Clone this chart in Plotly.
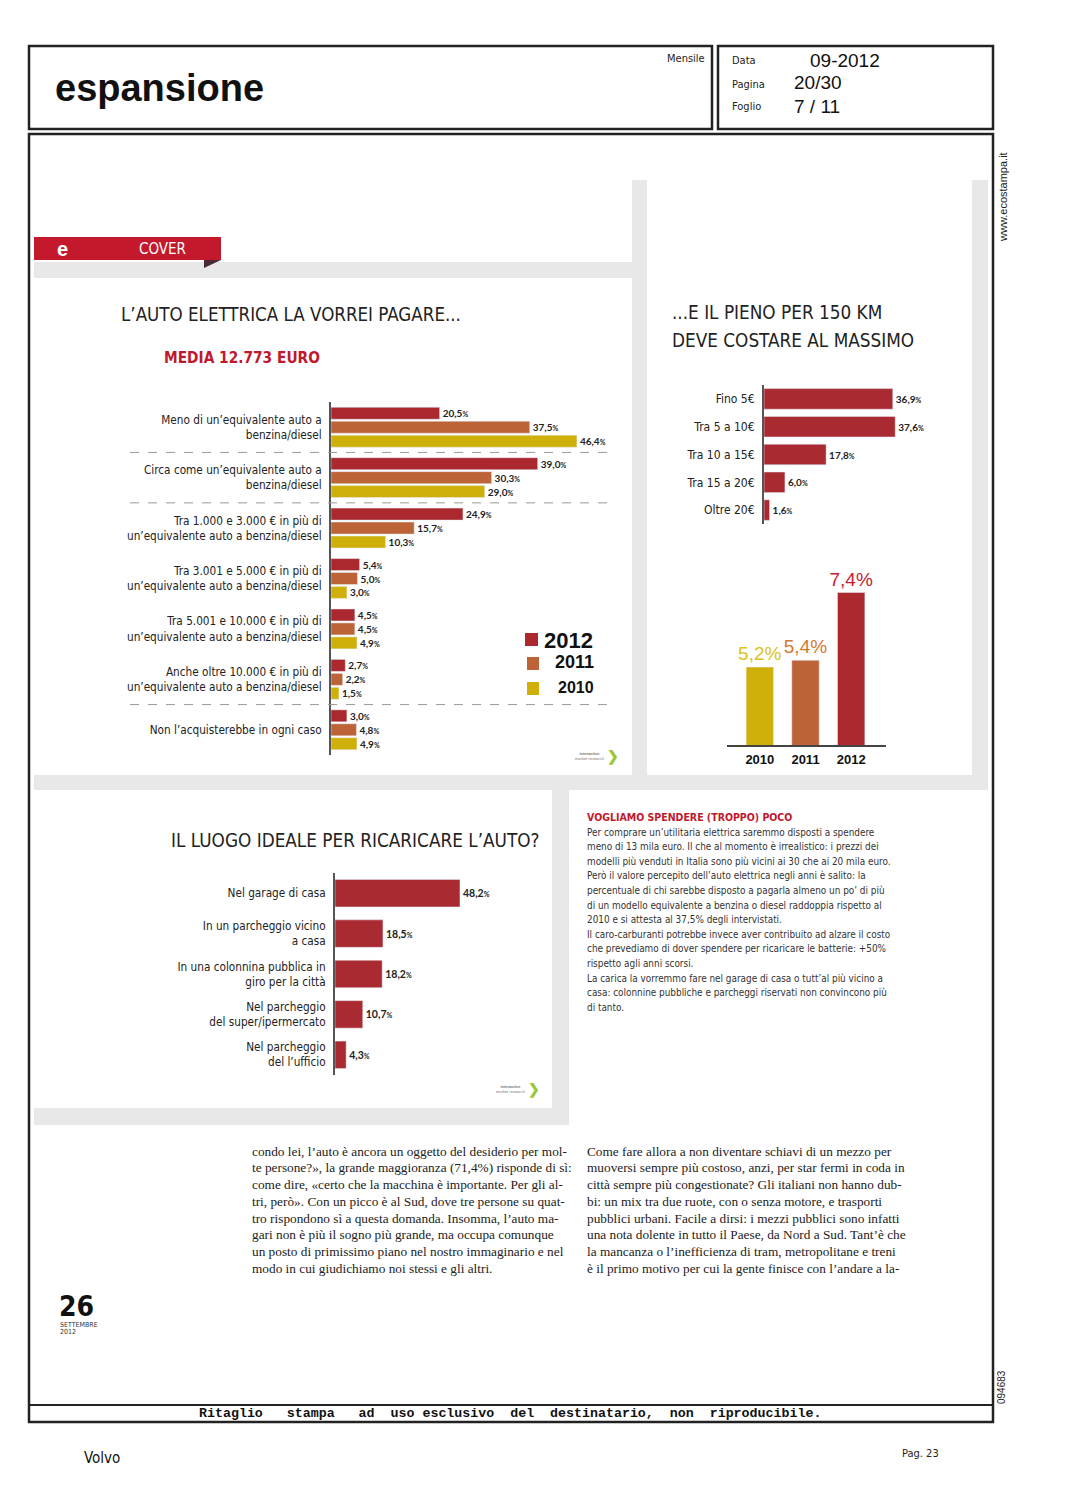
import plotly.graph_objects as go

OFF = 8  # default body margin of the page
W, H = 1069 - OFF, 1500 - OFF
def X(p): return (p - OFF) / W
def Y(p): return 1 - (p - OFF) / H

# ---------------- data ----------------
price_cats = [
    "Meno di un’equivalente auto a<br>benzina/diesel",
    "Circa come un’equivalente auto a<br>benzina/diesel",
    "Tra 1.000 e 3.000 € in più di<br>un’equivalente auto a benzina/diesel",
    "Tra 3.001 e 5.000 € in più di<br>un’equivalente auto a benzina/diesel",
    "Tra 5.001 e 10.000 € in più di<br>un’equivalente auto a benzina/diesel",
    "Anche oltre 10.000 € in più di<br>un’equivalente auto a benzina/diesel",
    "Non l’acquisterebbe in ogni caso",
]
price_2012 = [20.5, 39.0, 24.9, 5.4, 4.5, 2.7, 3.0]
price_2011 = [37.5, 30.3, 15.7, 5.0, 4.5, 2.2, 4.8]
price_2010 = [46.4, 29.0, 10.3, 3.0, 4.9, 1.5, 4.9]

fuel_cats = ["Fino 5€", "Tra 5 a 10€", "Tra 10 a 15€", "Tra 15 a 20€", "Oltre 20€"]
fuel_vals = [36.9, 37.6, 17.8, 6.0, 1.6]

trend_years = ["2010", "2011", "2012"]
trend_vals = [5.2, 5.4, 7.4]

place_cats = [
    "Nel garage di casa",
    "In un parcheggio vicino<br>a casa",
    "In una colonnina pubblica in<br>giro per la città",
    "Nel parcheggio<br>del super/ipermercato",
    "Nel parcheggio<br>del l’ufficio",
]
place_vals = [48.2, 18.5, 18.2, 10.7, 4.3]

# ---------------- styles ----------------
NARROW = "DejaVu Sans Condensed, Liberation Sans Narrow, Arial Narrow, sans-serif"
SANS = "Liberation Sans, Arial, sans-serif"
SERIF = "Liberation Serif, Times New Roman, serif"
LBL = "Lato, Liberation Sans, sans-serif"
C12, C11, C10 = "#ab282f", "#bd6338", "#cfb00a"
RED = "#a92a31"
GRAY = "#e8e8e8"

VAL_TPL = '<b>%{x:.1f}</b><span style="font-size:7px"><b>%</b></span>'

fig = go.Figure()

# Chart A
for name, vals, col in [("2012", price_2012, C12), ("2011", price_2011, C11), ("2010", price_2010, C10)]:
    fig.add_trace(go.Bar(
        y=price_cats, x=vals, orientation="h", name=name, marker_color=col,
        texttemplate=VAL_TPL, textposition="outside", cliponaxis=False,
        constraintext="none", textfont=dict(family=LBL, size=10, color="#222"),
        xaxis="x", yaxis="y", hoverinfo="skip"))

# Chart B
fig.add_trace(go.Bar(
    y=fuel_cats, x=fuel_vals, orientation="h", marker_color=RED, width=0.74,
    texttemplate=VAL_TPL, textposition="outside", cliponaxis=False,
    constraintext="none", textfont=dict(family=LBL, size=10, color="#222"),
    xaxis="x2", yaxis="y2", hoverinfo="skip"))

# Chart C
fig.add_trace(go.Bar(
    x=trend_years, y=trend_vals, marker_color=[C10, C11, C12], width=0.6,
    texttemplate="%{y:.1f}%", textposition="outside", cliponaxis=False,
    constraintext="none",
    textfont=dict(family=SANS, size=19, color=["#dcc21a", "#d6782e", "#c81a30"]),
    xaxis="x3", yaxis="y3", hoverinfo="skip"))

# Chart D
fig.add_trace(go.Bar(
    y=place_cats, x=place_vals, orientation="h", marker_color=RED, width=0.68,
    texttemplate=VAL_TPL, textposition="outside", cliponaxis=False,
    constraintext="none", textfont=dict(family=LBL, size=10.5, color="#222"),
    xaxis="x4", yaxis="y4", hoverinfo="skip"))

hide = dict(showgrid=False, zeroline=False, showticklabels=False, showline=False, ticks="")
def cat_axis(size):
    return dict(showgrid=False, zeroline=False, showline=True, linecolor="#555",
                linewidth=2, ticks="", autorange="reversed", ticklabelstandoff=5,
                tickfont=dict(family=NARROW, size=size, color="#222"))

fig.update_layout(
    width=W, height=H, margin=dict(l=0, r=0, t=0, b=0),
    paper_bgcolor="white", plot_bgcolor="rgba(0,0,0,0)",
    showlegend=False, separators=",.",
    barmode="group", bargap=0.17, bargroupgap=0.14,
    xaxis=dict(domain=[X(331), X(625)], range=[0, (625 - 331) / 5.3], anchor="y", **hide),
    yaxis=dict(domain=[Y(755), Y(402)], anchor="x", **cat_axis(11.7)),
    xaxis2=dict(domain=[X(764), X(960)], range=[0, 196 / 3.49], anchor="y2", **hide),
    yaxis2=dict(domain=[Y(524), Y(385)], anchor="x2", **cat_axis(12)),
    xaxis3=dict(domain=[X(737), X(874)], anchor="y3", showgrid=False, zeroline=False,
                showline=False, ticks="", ticklabelstandoff=4,
                tickfont=dict(family=SANS, size=13, color="#111", weight="bold")),
    yaxis3=dict(domain=[Y(746), Y(580)], range=[2.87, 7.77], anchor="x3", **hide),
    xaxis4=dict(domain=[X(335), X(552)], range=[0, 217 / 2.593], anchor="y4", **hide),
    yaxis4=dict(domain=[Y(1075), Y(873)], anchor="x4", **cat_axis(11.7)),
)

shapes = []
def rect(x0, y0, x1, y1, fill=None, line=None, lw=0):
    shapes.append(dict(type="rect", xref="paper", yref="paper",
                       x0=X(x0), x1=X(x1), y0=Y(y1), y1=Y(y0),
                       fillcolor=fill if fill else "rgba(0,0,0,0)",
                       line=dict(color=line if line else "rgba(0,0,0,0)", width=lw),
                       layer="below"))

# gray panel separators
rect(632, 180, 647, 775, GRAY)
rect(34, 262, 632, 278, GRAY)
rect(972, 180, 988, 790, GRAY)
rect(34, 775, 988, 790, GRAY)
rect(552, 790, 569, 1125, GRAY)
rect(34, 1108, 569, 1125, GRAY)
# frames
rect(29, 46, 712, 129, None, "#222", 2.5)
rect(718, 46, 993, 129, None, "#222", 2.5)
rect(29, 134, 993, 1422, None, "#222", 2.5)
shapes.append(dict(type="line", xref="paper", yref="paper", x0=X(29), x1=X(993),
                   y0=Y(1405), y1=Y(1405), line=dict(color="#222", width=2)))
# COVER tab
rect(34, 237, 221, 260, "#c4182c")
shapes.append(dict(type="path", xref="paper", yref="paper",
                   path=f"M {X(204)},{Y(260)} L {X(221)},{Y(260)} L {X(204)},{Y(268)} Z",
                   fillcolor="#4b2a33", line=dict(width=0)))
# dashed separators in chart A
for yy in [0.5, 1.5, 5.5]:
    shapes.append(dict(type="line", xref="paper", yref="y", x0=X(130), x1=X(612),
                       y0=yy, y1=yy, line=dict(color="#9a9a9a", width=1, dash="dash")))
# legend squares chart A
rect(525, 633, 538, 646, C12)
rect(527, 657, 539, 670, C11)
rect(527, 682, 539, 695, C10)
# baseline chart C
shapes.append(dict(type="line", xref="paper", yref="paper", x0=X(727), x1=X(886),
                   y0=Y(746), y1=Y(746), line=dict(color="#444", width=2)))

anns = []
def txt(x, y, t, size=12, color="#222", family=SANS, anchor="left", angle=0):
    anns.append(dict(x=X(x), y=Y(y), xref="paper", yref="paper", text=t, showarrow=False,
                     xanchor=anchor, yanchor="middle", textangle=angle,
                     font=dict(size=size, color=color, family=family)))

# header
txt(53, 88, "<b>espansione</b>", 38, "#111", SANS)
txt(707, 58, "Mensile", 11, "#222", NARROW, "right")
txt(730, 61, "Data", 11, "#222", NARROW)
txt(808, 61, "09-2012", 19, "#111", SANS)
txt(730, 84, "Pagina", 11, "#222", NARROW)
txt(792, 83, "20/30", 19, "#111", SANS)
txt(730, 107, "Foglio", 11, "#222", NARROW)
txt(792, 107, "7 / 11", 19, "#111", SANS)
txt(1003, 197, "www.ecostampa.it", 11, "#222", SANS, "center", -90)
txt(1001, 1387, "094683", 10, "#222", SANS, "center", -90)

# cover tab
txt(55, 249, "<b>e</b>", 20, "white", SANS)
txt(137, 249, "COVER", 15, "white", NARROW)

# chart titles
txt(119, 314, "L’AUTO ELETTRICA LA VORREI PAGARE...", 18.6, "#222", NARROW)
txt(162, 358, "<b>MEDIA 12.773 EURO</b>", 15.3, "#c0182e", NARROW)
txt(670, 313, "...E IL PIENO PER 150 KM", 18.8, "#222", NARROW)
txt(670, 340, "DEVE COSTARE AL MASSIMO", 18.8, "#222", NARROW)
txt(169, 840, "IL LUOGO IDEALE PER RICARICARE L’AUTO?", 18.8, "#222", NARROW)

# legend text chart A
txt(542, 640, "<b>2012</b>", 22, "#111", SANS)
txt(553, 662, "<b>2011</b>", 18, "#111", SANS)
txt(556, 687, "<b>2010</b>", 16, "#111", SANS)

# logos
for lx, ly in [(573, 756), (494, 1089)]:
    txt(lx, ly, "<b>interactive</b><br>market research", 4, "#777", SANS)
    txt(lx + 32, ly, "<b>❯</b>", 14, "#9cc63b", SANS)

# sidebar
side_title = "VOGLIAMO SPENDERE (TROPPO) POCO"
side_lines = [
    "Per comprare un’utilitaria elettrica saremmo disposti a spendere",
    "meno di 13 mila euro. Il che al momento è irrealistico: i prezzi dei",
    "modelli più venduti in Italia sono più vicini ai 30 che ai 20 mila euro.",
    "Però il valore percepito dell’auto elettrica negli anni è salito: la",
    "percentuale di chi sarebbe disposto a pagarla almeno un po’ di più",
    "di un modello equivalente a benzina o diesel raddoppia rispetto al",
    "2010 e si attesta al 37,5% degli intervistati.",
    "Il caro-carburanti potrebbe invece aver contribuito ad alzare il costo",
    "che prevediamo di dover spendere per ricaricare le batterie: +50%",
    "rispetto agli anni scorsi.",
    "La carica la vorremmo fare nel garage di casa o tutt’al più vicino a",
    "casa: colonnine pubbliche e parcheggi riservati non convincono più",
    "di tanto.",
]
txt(585, 817, f"<b>{side_title}</b>", 10.5, "#c0182e", NARROW)
for i, line in enumerate(side_lines):
    txt(585, 832 + i * 14.6, line, 9.9, "#333", NARROW)

# article columns
left_col = [
    "condo lei, l’auto è ancora un oggetto del desiderio per mol-",
    "te persone?», la grande maggioranza (71,4%) risponde di sì:",
    "come dire, «certo che la macchina è importante. Per gli al-",
    "tri, però». Con un picco è al Sud, dove tre persone su quat-",
    "tro rispondono sì a questa domanda. Insomma, l’auto ma-",
    "gari non è più il sogno più grande, ma occupa comunque",
    "un posto di primissimo piano nel nostro immaginario e nel",
    "modo in cui giudichiamo noi stessi e gli altri.",
]
right_col = [
    "Come fare allora a non diventare schiavi di un mezzo per",
    "muoversi sempre più costoso, anzi, per star fermi in coda in",
    "città sempre più congestionate? Gli italiani non hanno dub-",
    "bi: un mix tra due ruote, con o senza motore, e trasporti",
    "pubblici urbani. Facile a dirsi: i mezzi pubblici sono infatti",
    "una nota dolente in tutto il Paese, da Nord a Sud. Tant’è che",
    "la mancanza o l’inefficienza di tram, metropolitane e treni",
    "è il primo motivo per cui la gente finisce con l’andare a la-",
]
for i, line in enumerate(left_col):
    txt(250, 1151 + i * 16.75, line, 13.3, "#222", SERIF)
for i, line in enumerate(right_col):
    txt(585, 1151 + i * 16.75, line, 13.3, "#222", SERIF)

# footer
txt(57, 1306, "<b>26</b>", 28, "#111", NARROW)
txt(58, 1325, "SETTEMBRE", 7, "#333", NARROW)
txt(58, 1332, "2012", 7, "#333", NARROW)
nb = "\u00a0"
rit = f"Ritaglio{nb*3}stampa{nb*3}ad{nb*2}uso{nb}esclusivo{nb*2}del{nb*2}destinatario,{nb*2}non{nb*2}riproducibile."
txt(510, 1413, f"<b>{rit}</b>", 13.3, "#111", "Liberation Mono, Courier New, monospace", "center")
txt(82, 1458, "Volvo", 15, "#111", NARROW)
txt(900, 1453, "Pag. 23", 11, "#222", NARROW)

fig.update_layout(shapes=shapes, annotations=anns)
fig.write_html("out.html")
